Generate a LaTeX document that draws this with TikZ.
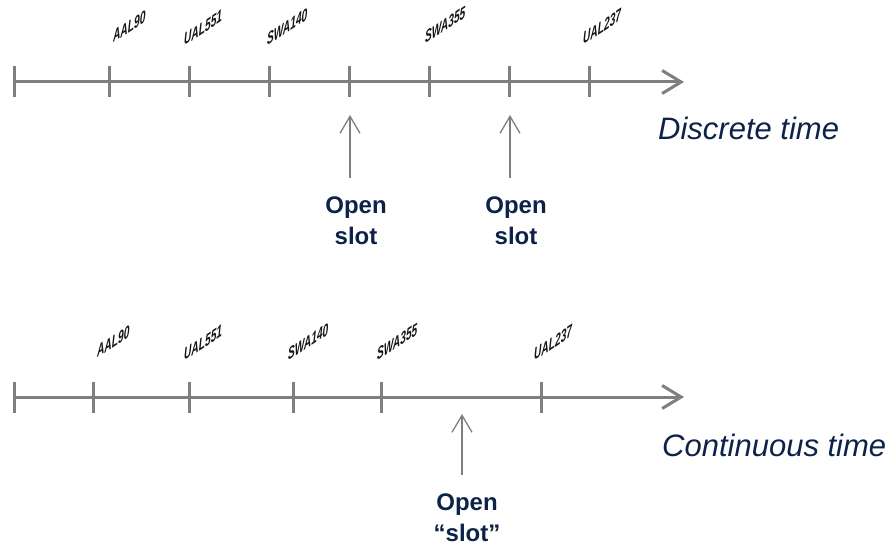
\documentclass[tikz,border=0pt]{standalone}
\usepackage{fontspec}
\setmainfont{Liberation Sans}
\usetikzlibrary{arrows.meta}
\definecolor{axisgray}{HTML}{7F7F7F}
\definecolor{navy}{HTML}{0C2248}
\begin{document}
\begin{tikzpicture}[x=1pt,y=-1pt,
  axisline/.style={draw=axisgray, line width=3pt, -{Straight Barb[length=19pt,width=23pt,line width=3pt]}},
  tickmark/.style={draw=axisgray, line width=3pt},
  flight/.style={font=\fontsize{17}{17}\selectfont\bfseries\itshape, text=black!92, anchor=base west, inner sep=0pt, yslant=0.66, xscale=0.6, transform shape},
  slotlabel/.style={font=\fontsize{24}{30.5}\selectfont\bfseries, text=navy, align=center, anchor=north, inner sep=0pt},
  slotarrow/.style={draw=axisgray, line width=1.3pt, -{Straight Barb[length=17pt,width=20pt,line width=1.3pt]}, shorten <=19pt},
  kindlabel/.style={font=\fontsize{31}{31}\selectfont\itshape, text=navy, anchor=base west, inner sep=0pt}]
\useasboundingbox (0,0) rectangle (891,548);

% ---------- discrete time ----------
\coordinate (ds) at (14,82);
\coordinate (de) at (684,82);
\draw[axisline] (ds) -- (de);
\foreach \x [count=\i] in {14,109,189,269,349,429,509,589} {
  \coordinate (dt\i) at (\x,82);
  \draw[tickmark] (\x,66.5) -- (\x,97.5);
}
\node[flight] (dl1) at (113,43) {AAL90};
\node[flight] (dl2) at (184,46) {UAL551};
\node[flight] (dl3) at (267,46) {SWA140};
\node[flight] (dl4) at (425,44) {SWA355};
\node[flight] (dl5) at (583,45) {UAL237};

\coordinate (da1) at (350,115);
\coordinate (da2) at (510,115);
\node[slotlabel] (do1) at (356,197) {Open\\slot};
\node[slotlabel] (do2) at (516,197) {Open\\slot};
\draw[slotarrow] (do1.north -| da1) -- (da1);
\draw[slotarrow] (do2.north -| da2) -- (da2);
\node[kindlabel] (dk) at (658,140) {Discrete time};

% ---------- continuous time ----------
\coordinate (cs) at (14,397);
\coordinate (ce) at (684,397);
\draw[axisline] (cs) -- (ce);
\foreach \x [count=\i] in {14,93,189,293,381,541} {
  \coordinate (ct\i) at (\x,397);
  \draw[tickmark] (\x,381.5) -- (\x,412.5);
}
\node[flight] (cl1) at (97,358) {AAL90};
\node[flight] (cl2) at (184,361) {UAL551};
\node[flight] (cl3) at (288,361) {SWA140};
\node[flight] (cl4) at (377,361) {SWA355};
\node[flight] (cl5) at (534,361) {UAL237};

\coordinate (ca1) at (462,414);
\node[slotlabel] (co1) at (467,494) {Open\\``slot''};
\draw[slotarrow] (co1.north -| ca1) -- (ca1);
\node[kindlabel] (ck) at (662,456) {Continuous time};
\end{tikzpicture}
\end{document}
